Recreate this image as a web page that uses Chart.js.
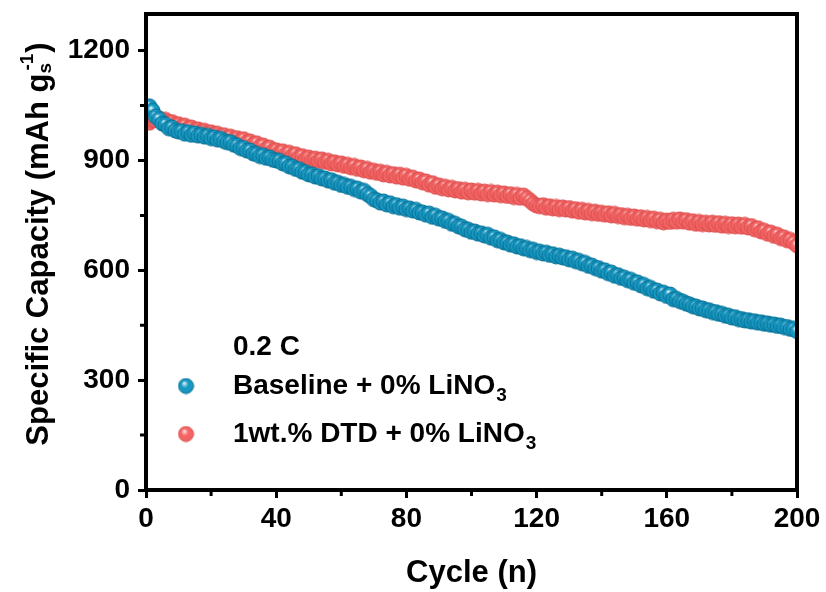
<!DOCTYPE html>
<html>
<head>
<meta charset="utf-8">
<script src="https://cdn.jsdelivr.net/npm/chart.js@4"></script>
<style>
  html, body { margin: 0; padding: 0; background: #fff; }
  #wrap { width: 826px; height: 592px; }
</style>
</head>
<body>
<div id="wrap"><canvas id="cap"></canvas></div>
<script>
// cycle numbers 1..200
const cycles = Array.from({length: 200}, (_, i) => i + 1);

// Baseline + 0% LiNO3 (mAh/g_s)
const baseline = [
  1048, 1036, 1020, 1013, 1001, 998, 988, 990, 982, 979,
  980, 973, 977, 970, 974, 968, 970, 965, 967, 961,
  963, 957, 959, 953, 950, 950, 943, 941, 934, 934,
  927, 927, 919, 918, 912, 914, 907, 908, 902, 900,
  899, 892, 892, 884, 883, 877, 876, 869, 868, 862,
  862, 856, 857, 851, 851, 845, 846, 839, 839, 833,
  833, 828, 828, 822, 823, 815, 817, 808, 803, 794,
  791, 785, 788, 780, 783, 775, 778, 771, 774, 767,
  769, 763, 765, 758, 758, 752, 755, 746, 749, 741,
  742, 735, 735, 727, 727, 720, 719, 712, 711, 705,
  706, 700, 701, 695, 697, 689, 690, 682, 683, 676,
  676, 670, 671, 665, 666, 660, 661, 655, 656, 650,
  651, 646, 648, 642, 644, 638, 640, 635, 636, 630,
  632, 625, 626, 619, 620, 612, 613, 606, 606, 599,
  600, 592, 594, 585, 587, 579, 580, 573, 574, 566,
  567, 559, 560, 551, 552, 544, 545, 537, 539, 530,
  534, 521, 522, 516, 514, 509, 507, 502, 501, 496,
  496, 491, 491, 486, 486, 481, 481, 476, 476, 471,
  472, 467, 467, 463, 464, 460, 461, 457, 458, 454,
  455, 451, 452, 448, 449, 445, 445, 440, 440, 434
];

// 1wt.% DTD + 0% LiNO3
const dtd = [
  1003, 1010, 1011, 1015, 1010, 1011, 1004, 1005, 998, 999,
  993, 995, 988, 990, 983, 985, 979, 981, 975, 977,
  971, 973, 966, 969, 961, 965, 958, 961, 955, 958,
  950, 952, 944, 947, 938, 941, 932, 935, 926, 928,
  921, 925, 917, 921, 913, 917, 909, 912, 904, 908,
  902, 905, 899, 903, 896, 899, 892, 895, 889, 892,
  885, 888, 881, 885, 877, 881, 873, 877, 869, 872,
  866, 869, 862, 866, 859, 863, 856, 861, 853, 858,
  850, 853, 845, 848, 840, 843, 834, 838, 828, 832,
  824, 828, 821, 825, 818, 822, 815, 820, 813, 818,
  812, 817, 810, 815, 808, 814, 807, 812, 805, 810,
  803, 808, 800, 806, 798, 804, 797, 790, 782, 777,
  775, 778, 771, 775, 769, 773, 767, 772, 766, 770,
  763, 767, 760, 765, 758, 762, 756, 760, 754, 757,
  752, 756, 750, 754, 748, 751, 745, 749, 743, 747,
  741, 745, 739, 743, 737, 741, 734, 738, 731, 736,
  732, 738, 733, 739, 733, 737, 730, 734, 727, 732,
  726, 730, 725, 730, 724, 729, 722, 727, 721, 726,
  720, 725, 719, 724, 717, 721, 712, 715, 706, 708,
  700, 703, 694, 697, 688, 690, 682, 683, 676, 668
];

const xTicks = [0, 40, 80, 120, 160, 200];
const yTicks = [0, 300, 600, 900, 1200];
const xMinor = [20, 60, 100, 140, 180];
const yMinor = [150, 450, 750, 1050];

const rateLabel = '0.2 C';
const seriesLabels = ['Baseline + 0% LiNO', '1wt.% DTD + 0% LiNO'];

const FONT = '"Liberation Sans", Arial, sans-serif';

// shaded ball used as the marker
function ball(r, base, dark, light) {
    const s = Math.ceil(r * 2) + 2;
    const c = document.createElement('canvas');
    c.width = c.height = s;
    const g = c.getContext('2d');
    const m = s / 2;
    const grad = g.createRadialGradient(m - r * 0.25, m - r * 0.4, r * 0.05, m, m, r);
    grad.addColorStop(0, light);
    grad.addColorStop(0.45, base);
    grad.addColorStop(0.85, base);
    grad.addColorStop(1, dark);
    g.fillStyle = grad;
    g.beginPath();
    g.arc(m, m, r, 0, Math.PI * 2);
    g.fill();
    g.strokeStyle = dark;
    g.lineWidth = 1;
    g.stroke();
    return c;
}

const blueBall = ball(7.5, '#1798c2', '#0a7398', '#e2f5fb');
const redBall = ball(7.5, '#f26564', '#de5050', '#ffe6e4');
const blueBig = ball(7.5, '#1798c2', '#0a7398', '#e2f5fb');
const redBig = ball(7.5, '#f26564', '#de5050', '#ffe6e4');

const frame = {
    id: 'frame',
    afterDatasetsDraw(chart) {
        const {ctx, chartArea: a, scales: {x, y}} = chart;
        ctx.save();
        ctx.strokeStyle = '#000';
        ctx.lineWidth = 4;
        ctx.strokeRect(a.left, a.top, a.right - a.left, a.bottom - a.top);

        // minor ticks
        ctx.lineWidth = 3;
        ctx.beginPath();
        xMinor.forEach(v => {
            const px = x.getPixelForValue(v);
            ctx.moveTo(px, a.bottom);
            ctx.lineTo(px, a.bottom + 6);
        });
        yMinor.forEach(v => {
            const py = y.getPixelForValue(v);
            ctx.moveTo(a.left, py);
            ctx.lineTo(a.left - 6, py);
        });
        ctx.stroke();

        ctx.fillStyle = '#000';
        ctx.textBaseline = 'middle';

        // x title
        ctx.font = 'bold 31px ' + FONT;
        ctx.textAlign = 'center';
        ctx.fillText('Cycle (n)', (a.left + a.right) / 2, 573);

        // y title with sub/superscript
        ctx.save();
        ctx.translate(39, 244);
        ctx.rotate(-Math.PI / 2);
        const main = 'Specific Capacity (mAh g';
        ctx.font = 'bold 31px ' + FONT;
        const w1 = ctx.measureText(main).width;
        ctx.font = 'bold 19px ' + FONT;
        const ws = ctx.measureText('s').width;
        const wsup = ctx.measureText('-1').width;
        ctx.font = 'bold 31px ' + FONT;
        const wc = ctx.measureText(')').width;
        const total = w1 + Math.max(ws, wsup + 3) + wc + 1;
        let sx = -total / 2;
        ctx.textAlign = 'left';
        ctx.fillText(main, sx, 0);
        sx += w1;
        ctx.font = 'bold 19px ' + FONT;
        ctx.fillText('s', sx, 7);
        ctx.fillText('-1', sx + 3, -11);
        sx += Math.max(ws, wsup + 3) + 1;
        ctx.font = 'bold 31px ' + FONT;
        ctx.fillText(')', sx, 0);
        ctx.restore();

        // legend
        ctx.textAlign = 'left';
        ctx.font = 'bold 28px ' + FONT;
        ctx.fillText(rateLabel, 233, 347);
        const rows = [[blueBig, 386], [redBig, 434]];
        seriesLabels.forEach((lab, i) => {
            const [img, ly] = rows[i];
            ctx.drawImage(img, 186 - img.width / 2, ly - img.width / 2);
            ctx.font = 'bold 28px ' + FONT;
            ctx.fillText(lab, 233, ly);
            const lw = ctx.measureText(lab).width;
            ctx.font = 'bold 19px ' + FONT;
            ctx.fillText('3', 233 + lw + 1, ly + 10);
        });
        ctx.restore();
    }
};

new Chart(document.getElementById('cap'), {
    type: 'scatter',
    data: {
        datasets: [
            {
                label: seriesLabels[0] + '3',
                data: cycles.map((c, i) => ({x: c, y: baseline[i]})),
                pointStyle: blueBall,
                backgroundColor: '#1798c2',
                borderColor: '#1798c2'
            },
            {
                label: seriesLabels[1] + '3',
                data: cycles.map((c, i) => ({x: c, y: dtd[i]})),
                pointStyle: redBall,
                backgroundColor: '#f26564',
                borderColor: '#f26564'
            }
        ]
    },
    options: {
        responsive: true,
        maintainAspectRatio: false,
        animation: false,
        layout: {padding: {left: 0, top: 14, right: 29, bottom: 0}},
        plugins: {
            legend: {display: false},
            tooltip: {enabled: false}
        },
        scales: {
            x: {
                type: 'linear',
                min: 0,
                max: 200,
                afterBuildTicks: s => { s.ticks = xTicks.map(v => ({value: v})); },
                afterFit: s => { s.height = 102; s.paddingLeft = 0; s.paddingRight = 0; },
                grid: {drawOnChartArea: false, drawTicks: true, tickLength: 8, lineWidth: 3, color: '#000'},
                border: {display: true, color: '#000', width: 4},
                ticks: {color: '#000', font: {family: FONT, size: 28, weight: 'bold'}, padding: 4, maxRotation: 0,
                        callback: v => String(v)}
            },
            y: {
                min: 0,
                max: 1300,
                afterBuildTicks: s => { s.ticks = yTicks.map(v => ({value: v})); },
                afterFit: s => { s.width = 146; s.paddingTop = 0; s.paddingBottom = 0; },
                grid: {drawOnChartArea: false, drawTicks: true, tickLength: 8, lineWidth: 3, color: '#000'},
                border: {display: true, color: '#000', width: 4},
                ticks: {color: '#000', font: {family: FONT, size: 28, weight: 'bold'}, padding: 8,
                        callback: v => String(v)}
            }
        }
    },
    plugins: [frame]
});
</script>
</body>
</html>
